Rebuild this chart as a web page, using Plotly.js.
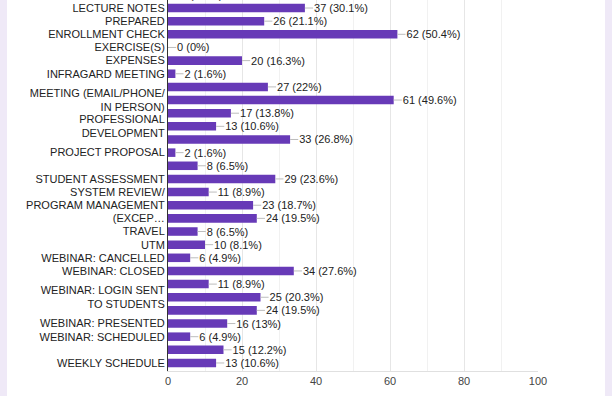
<!DOCTYPE html>
<html>
<head>
<meta charset="utf-8">
<script src="https://cdn.plot.ly/plotly-3.0.1.min.js"></script>
<style>
  html, body { margin: 0; padding: 0; background: #efe9f7; width: 612px; height: 396px; overflow: hidden; }
  #chart { position: absolute; left: 7px; top: 0; width: 598px; height: 396px; background: #fff; }
</style>
</head>
<body>
<div id="chart"></div>
<script>
// Categories, top to bottom (unlabelled rows get placeholder ids)
const categories = [
  "ROW 0 (cut off)", "LECTURE NOTES", "PREPARED", "ENROLLMENT CHECK", "EXERCISE(S)",
  "EXPENSES", "INFRAGARD MEETING", "ROW 7", "MEETING (EMAIL/PHONE/ IN PERSON)", "ROW 9",
  "PROFESSIONAL DEVELOPMENT", "ROW 11", "PROJECT PROPOSAL", "ROW 13", "STUDENT ASSESSMENT",
  "SYSTEM REVIEW/", "PROGRAM MANAGEMENT", "(EXCEP…", "TRAVEL", "UTM",
  "WEBINAR: CANCELLED", "WEBINAR: CLOSED", "ROW 22", "WEBINAR: LOGIN SENT TO STUDENTS", "ROW 24",
  "WEBINAR: PRESENTED", "WEBINAR: SCHEDULED", "ROW 27", "WEEKLY SCHEDULE"
];
// Tick labels as displayed
const tickLabels = [
  "", "LECTURE NOTES", "PREPARED", "ENROLLMENT CHECK", "EXERCISE(S)",
  "EXPENSES", "INFRAGARD MEETING", "", "MEETING (EMAIL/PHONE/<br>IN PERSON)", "",
  "PROFESSIONAL<br>DEVELOPMENT", "", "PROJECT PROPOSAL", "", "STUDENT ASSESSMENT",
  "SYSTEM REVIEW/", "PROGRAM MANAGEMENT", "(EXCEP…", "TRAVEL", "UTM",
  "WEBINAR: CANCELLED", "WEBINAR: CLOSED", "", "WEBINAR: LOGIN SENT<br>TO STUDENTS", "",
  "WEBINAR: PRESENTED", "WEBINAR: SCHEDULED", "", "WEEKLY SCHEDULE"
];
const counts = [1, 37, 26, 62, 0, 20, 2, 27, 61, 17, 13, 33, 2, 8, 29, 11, 23, 24, 8, 10, 6, 34, 11, 25, 24, 16, 6, 15, 13];
const percents = ["0.8", "30.1", "21.1", "50.4", "0", "16.3", "1.6", "22", "49.6", "13.8", "10.6", "26.8", "1.6", "6.5", "23.6", "8.9", "18.7", "19.5", "6.5", "8.1", "4.9", "27.6", "8.9", "20.3", "19.5", "13", "4.9", "12.2", "10.6"];
const xTickVals = [0, 20, 40, 60, 80, 100];

const NB = "\u00a0\u00a0";
const labels = counts.map((c, i) => NB + c + " (" + percents[i] + "%)");

const trace = {
  type: "bar",
  orientation: "h",
  x: counts,
  y: categories,
  marker: { color: "#673ab7" },
  text: labels,
  textposition: "outside",
  constraintext: "none",
  cliponaxis: true,
  textfont: { family: "Liberation Sans, Arial, sans-serif", size: 11, color: "#222" },
  error_x: {
    type: "data", symmetric: false,
    array: counts.map(() => 2.2), arrayminus: counts.map(() => 0),
    color: "#bdbdbd", thickness: 1, width: 0
  },
  hoverinfo: "none"
};

const layout = {
  width: 598, height: 396,
  margin: { l: 161, r: 67, t: 0, b: 25, pad: 0 },
  paper_bgcolor: "#ffffff",
  plot_bgcolor: "#ffffff",
  showlegend: false,
  bargap: 0.35,
  font: { family: "Liberation Sans, Arial, sans-serif", size: 11, color: "#222" },
  xaxis: {
    range: [0, 100], autorange: false,
    tickvals: xTickVals, ticktext: xTickVals.map(String),
    showgrid: true, gridcolor: "#e6e6e6", gridwidth: 1,
    minor: { dtick: 10, tick0: 0, showgrid: true, gridcolor: "#f1f1f1", ticks: "" },
    zeroline: false,
    showline: true, linecolor: "#e0e0e0", linewidth: 1,
    ticks: "",
    tickfont: { size: 11, color: "#444" },
    fixedrange: true
  },
  yaxis: {
    type: "category",
    categoryorder: "array", categoryarray: categories,
    tickvals: categories, ticktext: tickLabels,
    range: [28.61, 0.39], autorange: false,
    showgrid: false, zeroline: false,
    showline: true, linecolor: "#333", linewidth: 1,
    ticks: "",
    ticklabelstandoff: 0,
    tickfont: { size: 11, color: "#222" },
    fixedrange: true
  }
};

Plotly.newPlot("chart", [trace], layout, { displayModeBar: false, staticPlot: true });
</script>
</body>
</html>
